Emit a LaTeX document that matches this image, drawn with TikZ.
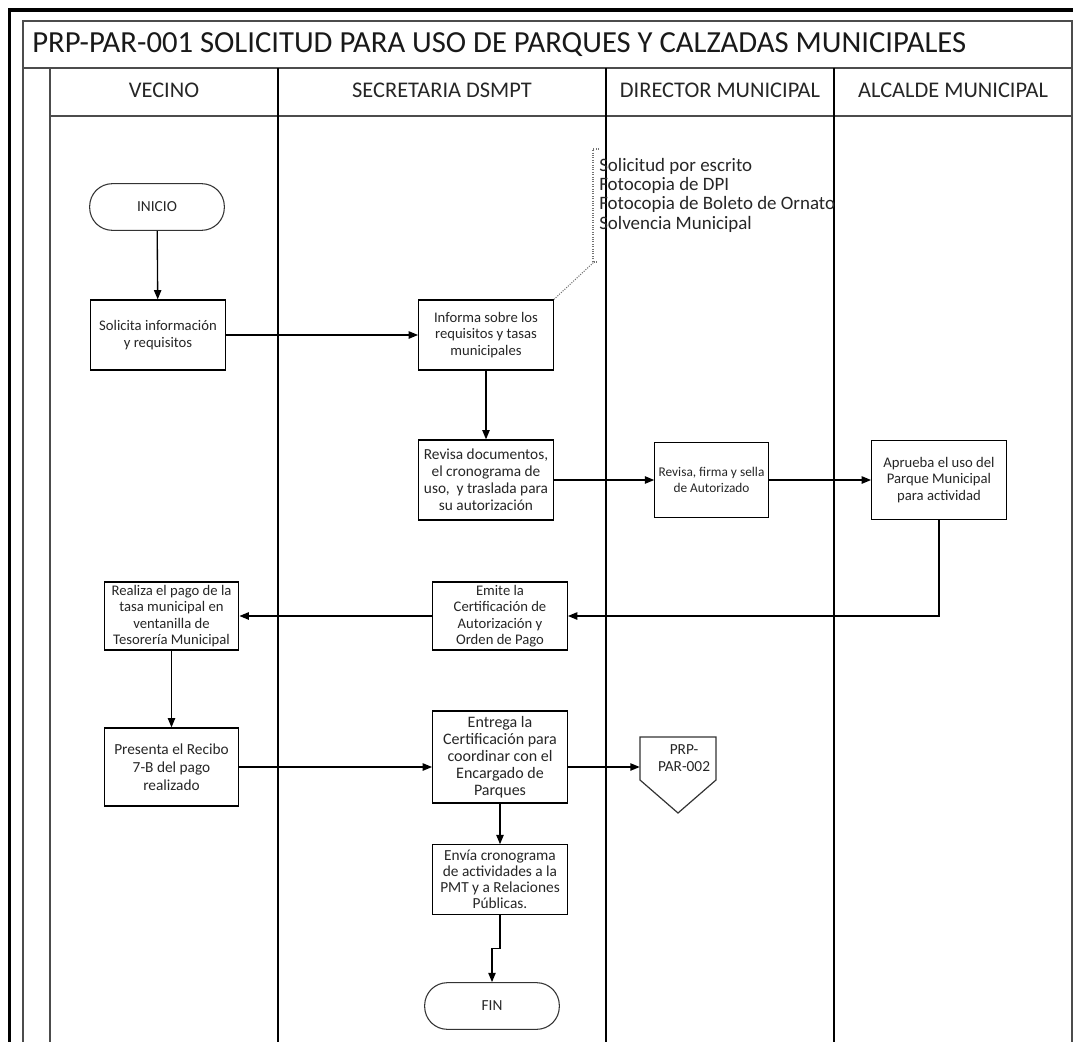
\documentclass[tikz,border=0pt]{standalone}
\usepackage{fontspec}
\setmainfont{Carlito}
\usetikzlibrary{arrows.meta}
\begin{document}
\begin{tikzpicture}[x=0.75pt,y=-0.75pt,
  proc/.style={draw=black, line width=0.9pt, fill=white, minimum width=101pt,
    align=center, inner sep=1pt, text=black!85},
  term/.style={draw=black!80, line width=0.8pt, fill=white, rounded corners=17pt,
    minimum width=101pt, minimum height=35pt, font=\fontsize{11.5}{13}\selectfont, text=black!85},
  fa/.style={font=\fontsize{11}{12.4}\selectfont},
  fb/.style={font=\fontsize{11.5}{12.8}\selectfont},
  fc/.style={font=\fontsize{12}{12.8}\selectfont},
  arr/.style={draw=black, line width=1pt, -{Triangle[length=7pt,width=5.5pt]}},
  lane/.style={draw=black, line width=1.1pt},
  grid/.style={draw=black!70, line width=0.8pt},
  hdr/.style={font=\fontsize{16.8}{20}\selectfont, text=black!85, anchor=base},
  note/.style={draw=black!55, densely dotted, line width=0.8pt},
]
\useasboundingbox (0,0) rectangle (1073,1041);

% heavy outer frame
\draw[line width=2.3pt] (9.5,1050) -- (9.5,10) -- (1085,10);

% table grid
\draw[grid] (23,1050) -- (23,21) -- (1072,21) -- (1072,1050);
\draw[grid] (23,68) -- (1072,68);
\draw[grid] (50,116) -- (1072,116);
\draw[grid] (50,68) -- (50,1050);

% swimlane dividers
\draw[lane] (278,68) -- (278,1050);
\draw[lane] (606,68) -- (606,1050);
\draw[lane] (834,68) -- (834,1050);

% title and lane headers
\node[anchor=base west, font=\fontsize{23}{27}\selectfont, text=black!90, inner sep=0pt]
  (title) at (32,53) {PRP-PAR-001 SOLICITUD PARA USO DE PARQUES Y CALZADAS MUNICIPALES};
\node[hdr] (h1) at (164,98) {VECINO};
\node[hdr] (h2) at (442,98) {SECRETARIA DSMPT};
\node[hdr] (h3) at (720,98) {DIRECTOR MUNICIPAL};
\node[hdr] (h4) at (953,98) {ALCALDE MUNICIPAL};

% flow steps
\node[term] (ini) at (157,207) {INICIO};
\node[proc, fa, minimum height=52.5pt] (sol) at (158,335) {Solicita información\\y requisitos};
\node[proc, fa, minimum height=52.5pt] (inf) at (486,335) {Informa sobre los\\requisitos y tasas\\municipales};
\node[proc, fb, minimum height=60pt] (rev) at (486,480) {Revisa documentos,\\el cronograma de\\uso,\ \ y traslada para\\su autorización};
\node[proc, font=\fontsize{10}{12.4}\selectfont, minimum width=85pt, minimum height=56pt] (fir) at (711.5,480) {Revisa, firma y sella\\de Autorizado};
\node[proc, fa, minimum height=59pt] (apr) at (939,480) {Aprueba el uso del\\Parque Municipal\\para actividad};
\node[proc, fa, minimum height=51pt] (emi) at (500,616) {Emite la\\Certificación de\\Autorización y\\Orden de Pago};
\node[proc, fa, minimum height=51pt] (rea) at (171.5,616) {Realiza el pago de la\\tasa municipal en\\ventanilla de\\Tesorería Municipal};
\node[proc, fb, font=\fontsize{11.5}{13.5}\selectfont, minimum height=58.5pt] (pre) at (171.5,767) {Presenta el Recibo\\7-B del pago\\realizado};
\node[proc, fc, minimum height=69pt] (ent) at (500,757) {Entrega la\\Certificación para\\coordinar con el\\Encargado de\\Parques};
\node[proc, fb, font=\fontsize{11.5}{12}\selectfont, minimum height=52pt] (env) at (500,879.5) {Envía cronograma\\de actividades a la\\PMT y a Relaciones\\Públicas.};
\node[term] (fin) at (492,1006) {FIN};

% off-page reference
\node[minimum width=57pt, minimum height=57pt, inner sep=0pt] (opc) at (678,775) {};
\draw[black!80, line width=0.9pt, fill=white] (640,737) -- (716,737) -- (716,780) -- (678,813) -- (640,780) -- cycle;
\node[fb, align=center, text=black!85, inner sep=0pt] (opct) at (684,758) {PRP-\\PAR-002};

% requirements annotation
\node[anchor=north west, align=left, inner sep=0pt, text=black!85,
  font=\fontsize{14.2}{14.4}\selectfont] (req) at (599,158)
  {Solicitud por escrito\\Fotocopia de DPI\\Fotocopia de Boleto de Ornato\\Solvencia Municipal};
\coordinate (brk) at (594,262);
\draw[note] (inf.north east) -- (brk);
\draw[note] (599,149) -- (593,149) -- (593,262) -- (598,262);

% connectors
\draw[arr] (ini) -- (sol);
\draw[arr] (sol) -- (inf);
\draw[arr] (inf) -- (rev);
\draw[arr] (rev) -- (fir);
\draw[arr] (fir) -- (apr);
\draw[arr] (apr.south) |- (emi.east);
\draw[arr] (emi) -- (rea);
\draw[arr] (rea) -- (pre);
\draw[arr] (pre.east) -- (pre.east -| ent.west);
\draw[arr] (pre.east -| ent.east) -- (pre.east -| opc.west);
\draw[arr] (ent.south) -- (ent.south |- env.north);
\draw[arr] (env.south) -- ++(0,34) -| (fin.north);
\end{tikzpicture}
\end{document}
